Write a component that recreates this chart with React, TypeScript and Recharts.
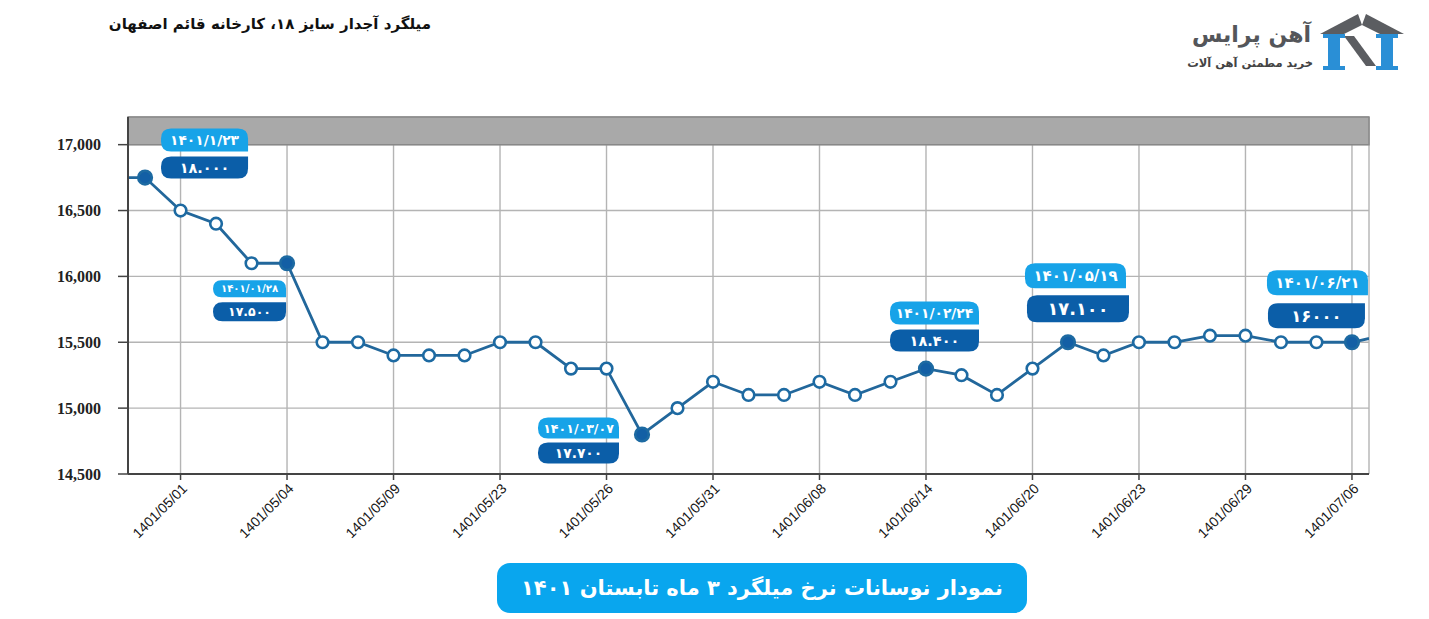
import React from 'react';
import { LineChart, Line, XAxis, YAxis, CartesianGrid, ReferenceArea, LabelList } from 'recharts';

// price per kg, one point per report date (first and last points sit just outside the frame)
const prices = [
    16750, 16750, 16500, 16400, 16100, 16100, 15500, 15500, 15400, 15400,
    15400, 15500, 15500, 15300, 15300, 14800, 15000, 15200, 15100, 15100,
    15200, 15100, 15200, 15300, 15250, 15100, 15300, 15500, 15400, 15500,
    15500, 15550, 15550, 15500, 15500, 15500, 15560,
];

const tickIndex = [2, 5, 8, 11, 14, 17, 20, 23, 26, 29, 32, 35];
const tickLabels = [
    '1401/05/01', '1401/05/04', '1401/05/09', '1401/05/23', '1401/05/26', '1401/05/31',
    '1401/06/08', '1401/06/14', '1401/06/20', '1401/06/23', '1401/06/29', '1401/07/06',
];
const yTicks = [14500, 15000, 15500, 16000, 16500, 17000];

const calloutIndex = [1, 5, 15, 23, 27, 35];
const calloutDates = ['۱۴۰۱/۱/۲۳', '۱۴۰۱/۰۱/۲۸', '۱۴۰۱/۰۳/۰۷', '۱۴۰۱/۰۲/۲۴', '۱۴۰۱/۰۵/۱۹', '۱۴۰۱/۰۶/۲۱'];
const calloutValues = ['۱۸.۰۰۰', '۱۷.۵۰۰', '۱۷.۷۰۰', '۱۸.۴۰۰', '۱۷.۱۰۰', '۱۶۰۰۰'];

// where each callout pair sits relative to its point
const calloutPlacement = [
    { dx: 16, w: 87, ly: -49, lh: 23, dy: -21, dh: 22, dx2: 16, w2: 87 },
    { dx: -74, w: 73, ly: 17, lh: 17, dy: 39, dh: 19, dx2: -74, w2: 73 },
    { dx: -104, w: 81, ly: -17, lh: 21, dy: 8, dh: 21, dx2: -104, w2: 81 },
    { dx: -36, w: 89, ly: -67, lh: 23, dy: -39, dh: 22, dx2: -36, w2: 89 },
    { dx: -43, w: 101, ly: -79, lh: 25, dy: -47, dh: 27, dx2: -41, w2: 102 },
    { dx: -85, w: 101, ly: -72, lh: 25, dy: -39, dh: 25, dx2: -84, w2: 97 },
];

const data = prices.map((price, idx) => ({ idx, price }));

const LIGHT = '#17a3e8';
const DARK = '#0b5ea8';
const LINE = '#22679b';

// rounded box with one square corner
const boxPath = (x: number, y: number, w: number, h: number, r: number, square: 'tr' | 'br') => {
    const tr = square === 'tr' ? 0 : r;
    const br = square === 'br' ? 0 : r;
    return `M${x + r},${y} H${x + w - tr} Q${x + w},${y} ${x + w},${y + tr} V${y + h - br} Q${x + w},${y + h} ${x + w - br},${y + h} H${x + r} Q${x},${y + h} ${x},${y + h - r} V${y + r} Q${x},${y} ${x + r},${y} Z`;
};

const renderCallout = (props: any) => {
    const k = calloutIndex.indexOf(props.value);
    if (k < 0) return null;
    const x = props.x ?? props.viewBox?.x;
    const y = props.y ?? props.viewBox?.y;
    const p = calloutPlacement[k];
    const r = Math.min(10, p.lh / 2);
    return (
        <g key={`callout-${k}`}>
            <path d={boxPath(x + p.dx, y + p.ly, p.w, p.lh, r, 'br')} fill={LIGHT} />
            <text x={x + p.dx + p.w / 2} y={y + p.ly + p.lh / 2} dy="0.36em" textAnchor="middle"
                fill="#fff" fontFamily="DejaVu Sans" fontWeight="bold" fontSize={p.lh * 0.6}>
                {calloutDates[k]}
            </text>
            <path d={boxPath(x + p.dx2, y + p.dy, p.w2, p.dh, Math.min(10, p.dh / 2), 'tr')} fill={DARK} />
            <text x={x + p.dx2 + p.w2 / 2} y={y + p.dy + p.dh / 2} dy="0.36em" textAnchor="middle"
                fill="#fff" fontFamily="DejaVu Sans" fontWeight="bold" fontSize={p.dh * 0.66}>
                {calloutValues[k]}
            </text>
        </g>
    );
};

const renderDot = (props: any) => {
    const { cx, cy, index } = props;
    const filled = calloutIndex.includes(index);
    return (
        <circle key={`dot-${index}`} cx={cx} cy={cy} r={filled ? 6.8 : 5.8}
            fill={filled ? '#135fa5' : '#fff'} stroke="#1d6aa2" strokeWidth={2.6} />
    );
};

const XTick = (props: any) => {
    const { x, y, payload } = props;
    const label = tickLabels[tickIndex.indexOf(payload.value)] ?? '';
    return (
        <g transform={`translate(${x + 4},${y + 4})`}>
            <text transform="rotate(-45)" textAnchor="end" dy="0.35em" fill="#151515"
                fontFamily="'Liberation Sans', sans-serif" fontSize={14}>
                {label}
            </text>
        </g>
    );
};

const Logo: React.FC = () => (
    <svg width={90} height={64} style={{ position: 'absolute', left: 1314, top: 10 }}>
        <polygon points="6,24 44,4 48,15 30,24" fill="#5b5d61" />
        <polygon points="52,4 90,24 66,24 48,15" fill="#5b5d61" />
        <polygon points="30,26 40,26 62,56 52,56" fill="#5b5d61" />
        <rect x={14} y={24} width={12} height={36} fill="#2a8fd6" />
        <rect x={9} y={24} width={22} height={4} fill="#2a8fd6" />
        <rect x={9} y={56} width={22} height={4} fill="#2a8fd6" />
        <rect x={67} y={24} width={12} height={36} fill="#2a8fd6" />
        <rect x={62} y={24} width={22} height={4} fill="#2a8fd6" />
        <rect x={62} y={56} width={22} height={4} fill="#2a8fd6" />
    </svg>
);

const App: React.FC = () => {
    return (
        <div style={{ position: 'absolute', left: 0, top: 0, width: 1429, height: 619, background: '#fff', overflow: 'hidden' }}>
            <div style={{
                position: 'absolute', right: 1429 - 431, top: 15, direction: 'rtl', whiteSpace: 'nowrap',
                fontFamily: 'DejaVu Sans', fontWeight: 'bold', fontSize: 15, color: '#111',
            }}>
                میلگرد آجدار سایز ۱۸، کارخانه قائم اصفهان
            </div>

            <div style={{
                position: 'absolute', right: 1429 - 1311, top: 18, direction: 'rtl', whiteSpace: 'nowrap',
                fontFamily: 'DejaVu Sans', fontWeight: 'bold', fontSize: 22, color: '#54565a', lineHeight: '34px',
            }}>
                آهن پرایس
            </div>
            <div style={{
                position: 'absolute', right: 1429 - 1313, top: 55, direction: 'rtl', whiteSpace: 'nowrap',
                fontFamily: 'DejaVu Sans', fontWeight: 'bold', fontSize: 11.5, color: '#444', lineHeight: '16px',
            }}>
                خرید مطمئن آهن آلات
            </div>
            <Logo />

            <div style={{ position: 'absolute', left: 0, top: 0 }}>
                <LineChart width={1429} height={560} data={data} margin={{ top: 117, right: 60, left: 68, bottom: 6 }}>
                    <CartesianGrid stroke="#b4b4b4" strokeWidth={1.4} />
                    <XAxis
                        type="number"
                        dataKey="idx"
                        domain={[0.52, 35.48]}
                        allowDataOverflow
                        ticks={tickIndex}
                        height={80}
                        tick={<XTick />}
                        tickSize={6}
                        tickLine={{ stroke: '#444', strokeWidth: 1.5 }}
                        axisLine={{ stroke: '#444', strokeWidth: 2 }}
                        interval={0}
                    />
                    <YAxis
                        type="number"
                        domain={[14500, 17210]}
                        allowDataOverflow
                        ticks={yTicks}
                        width={60}
                        tickSize={10}
                        tickMargin={17}
                        tickFormatter={(v: number) => v.toLocaleString('en-US')}
                        tick={{ fill: '#222', fontSize: 16, fontWeight: 'bold', fontFamily: "'Liberation Serif', serif" }}
                        tickLine={{ stroke: '#444', strokeWidth: 1.5 }}
                        axisLine={{ stroke: '#444', strokeWidth: 2 }}
                    />
                    <ReferenceArea y1={17000} y2={17210} fill="#a9a9a9" fillOpacity={1} stroke="#888" strokeWidth={1.5} />
                    <Line
                        type="linear"
                        dataKey="price"
                        stroke={LINE}
                        strokeWidth={2.8}
                        dot={renderDot}
                        activeDot={false}
                        isAnimationActive={false}
                    >
                        <LabelList dataKey="idx" content={renderCallout} />
                    </Line>
                </LineChart>
            </div>

            <div style={{
                position: 'absolute', left: 497, top: 563, width: 530, height: 50, borderRadius: 13,
                background: '#09a6ee', color: '#fff', direction: 'rtl', display: 'flex',
                alignItems: 'center', justifyContent: 'center', fontFamily: 'DejaVu Sans',
                fontWeight: 'bold', fontSize: 21, whiteSpace: 'nowrap',
            }}>
                نمودار نوسانات نرخ میلگرد ۳ ماه تابستان ۱۴۰۱
            </div>
        </div>
    );
};

export default App;
